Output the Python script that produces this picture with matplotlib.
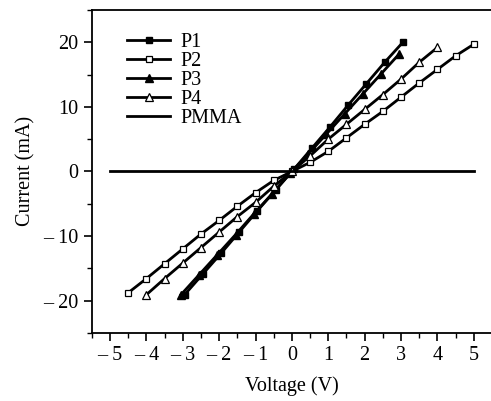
import matplotlib.pyplot as plt
from matplotlib.ticker import MultipleLocator, FuncFormatter

plt.rcParams.update({
    'font.family': ['Liberation Serif', 'DejaVu Serif'],
    'font.size': 14.5,
    'axes.linewidth': 1.3,
})

# I-V data (voltage in V, current in mA)
p1_v = [-2.95, -2.45, -1.95, -1.45, -0.95, -0.45, 0.05, 0.55, 1.05, 1.55, 2.05, 2.55, 3.05]
p1_i = [-19.1, -15.9, -12.7, -9.4, -6.1, -2.9, 0.3, 3.6, 6.9, 10.3, 13.6, 16.9, 20.0]

p2_v = [-4.5, -4.0, -3.5, -3.0, -2.5, -2.0, -1.5, -1.0, -0.5, 0.0,
        0.5, 1.0, 1.5, 2.0, 2.5, 3.0, 3.5, 4.0, 4.5, 5.0]
p2_i = [-18.8, -16.6, -14.3, -12.0, -9.7, -7.6, -5.4, -3.3, -1.4, 0.0,
        1.4, 3.1, 5.2, 7.3, 9.3, 11.5, 13.7, 15.8, 17.9, 19.7]

p3_v = [-3.05, -2.55, -2.05, -1.55, -1.05, -0.55, -0.05, 0.45, 0.95, 1.45, 1.95, 2.45, 2.95]
p3_i = [-19.1, -16.0, -12.9, -9.8, -6.6, -3.5, -0.3, 2.7, 5.8, 8.9, 12.0, 15.1, 18.2]

p4_v = [-4.0, -3.5, -3.0, -2.5, -2.0, -1.5, -1.0, -0.5, 0.0,
        0.5, 1.0, 1.5, 2.0, 2.5, 3.0, 3.5, 4.0]
p4_i = [-19.1, -16.6, -14.2, -11.8, -9.4, -7.0, -4.8, -2.3, 0.0,
        2.4, 5.0, 7.3, 9.6, 11.9, 14.3, 16.9, 19.2]

pmma_v = [-5.0, 5.0]
pmma_i = [0.0, 0.0]

fig = plt.figure(figsize=(4.91, 4.01), dpi=100)
ax = fig.add_axes([0.187, 0.170, 0.815, 0.805])

lw = 2.0
ax.plot(p1_v, p1_i, '-', color='black', lw=lw, marker='s', ms=5,
        mfc='black', mec='black', label='P1')
ax.plot(p2_v, p2_i, '-', color='black', lw=lw, marker='s', ms=5,
        mfc='white', mec='black', mew=0.9, label='P2')
ax.plot(p3_v, p3_i, '-', color='black', lw=lw, marker='^', ms=6,
        mfc='black', mec='black', label='P3')
ax.plot(p4_v, p4_i, '-', color='black', lw=lw, marker='^', ms=6,
        mfc='white', mec='black', mew=0.9, label='P4')
ax.plot(pmma_v, pmma_i, '-', color='black', lw=lw, label='PMMA')

ax.set_xlim(-5.5, 5.5)
ax.set_ylim(-25, 25)

ax.xaxis.set_major_locator(MultipleLocator(1))
ax.xaxis.set_minor_locator(MultipleLocator(0.5))
ax.yaxis.set_major_locator(MultipleLocator(10))
ax.yaxis.set_minor_locator(MultipleLocator(5))

def fmt(v, pos):
    v = int(round(v))
    return f'\u2013 {abs(v)}' if v < 0 else f'{v}'

ax.xaxis.set_major_formatter(FuncFormatter(fmt))
ax.yaxis.set_major_formatter(FuncFormatter(fmt))

ax.tick_params(which='major', direction='out', length=6, width=1.2)
ax.tick_params(which='minor', direction='out', length=3.5, width=1.0)
ax.tick_params(top=False, right=False, which='both')
ax.spines['right'].set_color('#e6e6e6')
ax.spines['right'].set_linewidth(0.8)

ax.set_xlabel('Voltage (V)', labelpad=8)
ax.set_ylabel('Current (mA)', labelpad=6)

ax.legend(loc='upper left', bbox_to_anchor=(0.088, 0.93), frameon=False,
          borderpad=0, borderaxespad=0, handlelength=2.15, handletextpad=0.5,
          labelspacing=0.0, fontsize=14.5)

fig.savefig('out.png', dpi=100)
